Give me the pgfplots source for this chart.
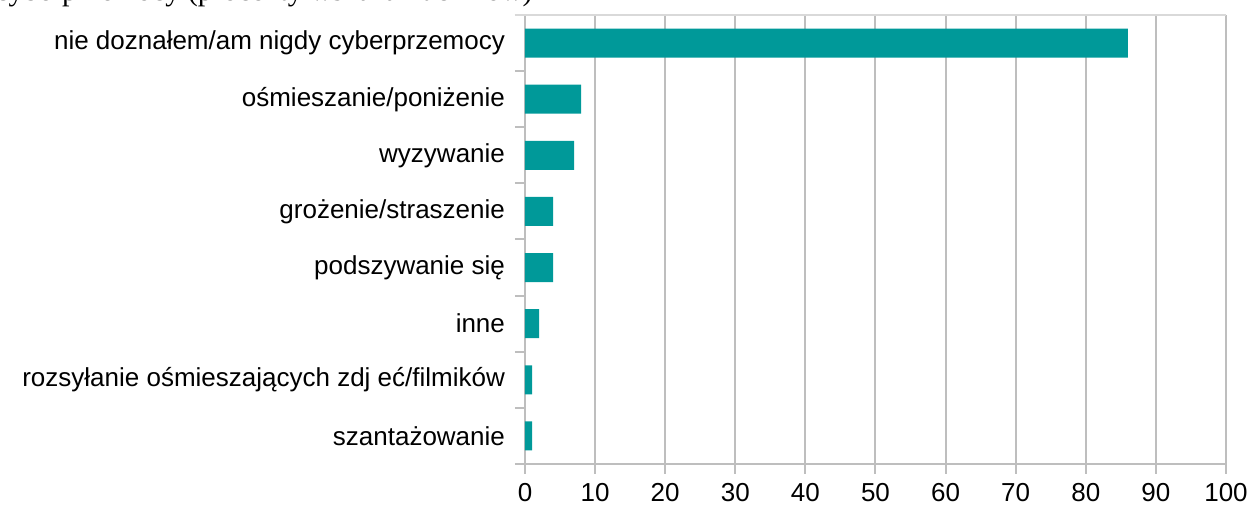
\documentclass[border=0pt]{standalone}
\usepackage{pgfplots}
\pgfplotsset{compat=1.18}
\usepackage{fontspec}
\setmainfont{Liberation Sans}
\newfontfamily\titlefont{Liberation Serif}
\usetikzlibrary{calc}
\definecolor{barteal}{RGB}{0,153,153}
\definecolor{gridgray}{RGB}{190,190,190}
\definecolor{topgray}{RGB}{217,217,217}
\begin{document}
\fontsize{13}{15.6}\selectfont
\begin{tikzpicture}
\begin{axis}[
    name=ax,
    scale only axis,
    width=350.5pt, height=224.5pt,
    xmin=0, xmax=100,
    ymin=-0.5, ymax=7.5,
    xbar, bar width=14.5pt,
    axis x line*=bottom, axis y line*=left,
    axis line style={gridgray, line width=1pt},
    xtick={0,10,...,100},
    ytick={0,...,7},
    yticklabels={szantażowanie, rozsyłanie ośmieszających zdj eć/filmików, inne, podszywanie się, grożenie/straszenie, wyzywanie, ośmieszanie/poniżenie, nie doznałem/am nigdy cyberprzemocy},
    minor ytick={-0.5,0.5,...,7.5},
    tick align=outside,
    major tick length=5pt, minor tick length=5pt,
    tick style={gridgray, line width=1pt},
    major y tick style={draw=none},
    xmajorgrids, major grid style={gridgray, line width=1pt},
    tick label style={font=\fontsize{13}{15.6}\selectfont, black},
    /pgf/number format/assume math mode=true,
    yticklabel style={xshift=-0.5pt},
    clip=false,
]
\addplot[draw=none, fill=barteal] coordinates {
    (1,0) (1,1) (2,2) (4,3) (4,4) (7,5) (8,6) (86,7)
};
\end{axis}
\draw[topgray, line width=1pt] ($(ax.north west)+(-5pt,0)$) -- (ax.north east);
\node[anchor=base east, inner sep=0pt, font=\titlefont\fontsize{15}{18}\selectfont]
    at ($(ax.south west)+(4pt,231.5pt)$) {Rodzaje doznanej cyberprzemocy (procenty wskazań uczniów)};
\pgfresetboundingbox
\path[use as bounding box] ($(ax.south west)+(-262.5pt,-21.5pt)$) rectangle ($(ax.south west)+(362pt,232pt)$);
\end{tikzpicture}
\end{document}
